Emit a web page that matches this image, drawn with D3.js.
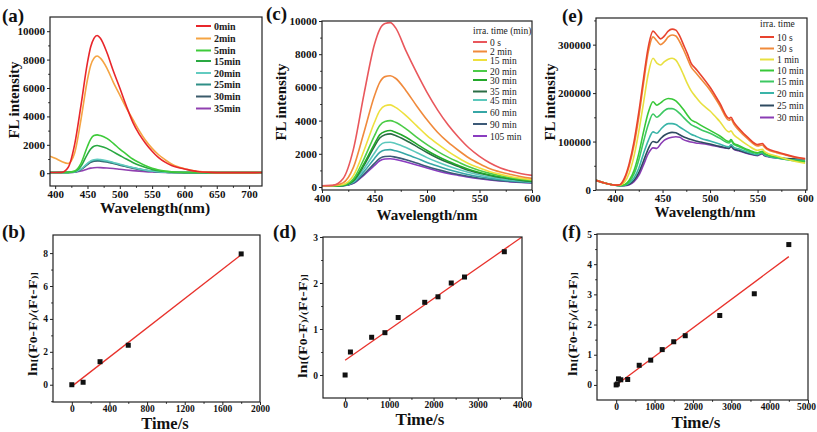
<!DOCTYPE html>
<html><head><meta charset="utf-8">
<script src="https://cdn.jsdelivr.net/npm/d3@7"></script>
<style>
body{margin:0;background:#fff}
svg{display:block;font-family:"Liberation Serif","Times New Roman",serif}
</style></head><body>
<svg id="c" width="817" height="432"></svg>
<script>
// ---------- Panel (a) ----------
const aWave = [392,400,410,420,430,440,450,455,460,465,470,480,490,500,510,520,530,540,550,560,570,580,590,600,620,640,660,680,700,720];
const aNames = ["0min","2min","5min","15min","20min","25min","30min","35min"];
const aColors = ["#e8262b","#f5a443","#3ecb3a","#2aa842","#62cbc0","#2f8f87","#3b5b6b","#9040b0"];
const a0  = [50,50,60,400,2000,4800,7800,8900,9500,9700,9500,8500,7200,6000,4750,3600,2750,2100,1550,1100,780,550,400,300,120,60,40,40,40,50];
const a2  = [1200,1050,820,680,1400,3800,6600,7600,8100,8250,8100,7400,6400,5500,4600,3800,3000,2300,1750,1300,950,650,450,320,130,60,40,40,40,50];
const a5  = [50,50,50,60,150,700,1900,2400,2650,2700,2650,2450,2100,1700,1350,1000,750,520,350,230,150,100,70,60,50,40,40,40,40,50];
const a15 = [50,50,50,60,120,500,1350,1700,1900,1950,1900,1750,1500,1250,1000,760,560,400,270,180,120,80,60,50,40,40,40,40,40,50];
const a20 = [50,50,50,55,90,300,700,870,950,980,960,880,760,630,510,400,300,220,160,110,80,60,50,50,40,40,40,40,40,50];
const a25 = [50,50,50,55,85,280,650,820,900,920,900,830,720,600,490,380,290,210,150,100,75,55,50,45,40,40,40,40,40,50];
const a30 = [50,50,50,55,80,260,610,770,850,870,850,790,680,570,460,360,270,200,140,95,70,55,50,45,40,40,40,40,40,50];
const a35 = [50,50,50,55,70,150,300,360,390,400,395,370,330,280,230,185,145,110,85,65,55,50,45,40,40,40,40,40,40,50];
const aXTicks = [400,450,500,550,600,650,700];
const aYTicks = [0,2000,4000,6000,8000,10000];

// ---------- Panel (c) ----------
const cWave = [400,410,420,430,440,450,455,460,465,470,480,490,500,510,520,530,540,550,560,570,580,590,600];
const cNames = ["0 s","2 min","15 min","20 min","30 min","35 min","45 min","60 min","90 min","105 min"];
const cColors = ["#e9575c","#f08a3c","#eee03e","#4ccc48","#22a82a","#2a6d45","#5cc8bc","#36a6a6","#3c5a78","#8a3cc0"];
const c0   = [80,100,500,2300,5600,8600,9500,9850,9900,9600,8200,6900,5700,4650,3750,3000,2350,1850,1450,1150,950,800,700];
const c2   = [80,90,250,1200,3300,5500,6300,6650,6700,6550,5800,4900,4050,3300,2700,2200,1750,1400,1100,900,750,620,520];
const c15  = [70,80,150,700,2200,3900,4600,4900,4950,4800,4300,3700,3100,2600,2150,1750,1400,1150,920,760,620,520,440];
const c20  = [70,75,120,500,1700,3100,3700,3950,4000,3900,3500,3000,2550,2150,1800,1500,1220,1000,820,680,560,470,400];
const c30  = [70,70,100,400,1400,2600,3150,3350,3400,3300,3000,2600,2200,1850,1550,1300,1060,870,720,600,500,420,360];
const c35  = [70,70,100,380,1300,2450,2950,3150,3200,3100,2800,2450,2080,1750,1470,1230,1000,830,690,570,480,400,340];
const c45  = [70,70,90,320,1100,2050,2500,2680,2700,2620,2380,2080,1770,1500,1260,1050,870,720,600,500,420,360,310];
const c60  = [70,70,85,280,930,1720,2080,2230,2250,2180,1980,1740,1480,1260,1060,890,740,620,520,440,370,320,280];
const c90  = [70,70,80,240,780,1420,1720,1840,1850,1800,1640,1440,1230,1050,890,750,630,530,450,380,330,290,255];
const c105 = [70,70,80,220,720,1300,1580,1690,1700,1660,1510,1330,1140,970,820,700,590,500,420,360,310,270,240];
const cXTicks = [400,450,500,550,600];
const cYTicks = [0,2000,4000,6000,8000,10000];

// ---------- Panel (e) ----------
const eWave = [380,390,400,405,410,415,420,425,430,435,440,444,448,452,456,460,464,468,472,476,480,485,490,500,510,520,522,525,530,540,550,555,557,560,570,580,590,600];
const eNames = ["10 s","30 s","1 min","10 min","15 min","20 min","25 min","30 min"];
const eColors = ["#e8432e","#f08a3a","#e8e040","#38c838","#3cc862","#3ab4a8","#2e4a60","#8a3cb4"];
const e10s = [20000,14000,10000,11000,25000,55000,100000,160000,230000,295000,328000,320000,312000,318000,328000,332000,330000,318000,300000,282000,262000,250000,238000,212000,180000,148000,150000,140000,128000,108000,94000,96000,92000,86000,79000,73000,68000,65000];
const e30s = [20000,14000,10000,10500,22000,50000,92000,150000,220000,285000,316000,308000,300000,306000,316000,320000,318000,306000,290000,272000,254000,242000,230000,206000,175000,144000,146000,136000,124000,105000,91000,93000,89000,84000,77000,72000,67000,64000];
const e1m  = [20000,14000,10000,10000,16000,35000,70000,120000,180000,240000,272000,262000,258000,265000,270000,272000,268000,255000,238000,220000,205000,192000,180000,163000,142000,120000,122000,114000,106000,92000,82000,84000,80000,76000,70000,64000,59000,55000];
const e10m = [20000,14000,10000,9500,11000,20000,40000,75000,120000,160000,182000,175000,180000,186000,189000,188000,184000,176000,166000,155000,145000,140000,134000,123000,112000,100000,104000,96000,92000,83000,77000,80000,76000,73000,68000,64000,61000,58000];
const e15m = [20000,14000,10000,9500,10500,17000,33000,62000,100000,135000,157000,150000,156000,164000,168000,168000,165000,158000,150000,142000,135000,130000,125000,117000,107000,97000,101000,94000,90000,81000,76000,79000,75000,72000,67000,63000,60000,59000];
const e20m = [20000,14000,10000,9000,10000,14000,25000,45000,75000,102000,120000,117000,125000,133000,137000,137000,135000,130000,125000,120000,115000,111000,107000,101000,95000,89000,94000,88000,85000,78000,73000,77000,73000,70000,66000,63000,62000,61000];
const e25m = [20000,14000,10000,9000,9500,12000,20000,36000,60000,85000,100000,98000,106000,113000,117000,119000,118000,114000,110000,107000,104000,101000,99000,95000,90000,86000,91000,85000,82000,76000,72000,76000,72000,70000,67000,65000,64000,64000];
const e30m = [20000,14000,10000,9000,9000,11000,17000,30000,52000,75000,87000,86000,95000,103000,107000,109000,110000,109000,104000,101000,99000,97000,96000,93000,89000,86000,90000,84000,81000,75000,71000,75000,71000,69000,66000,64000,64000,63000];
const eXTicks = [400,450,500,550,600];
const eYTicks = [0,100000,200000,300000];

// ---------- Panels (b), (d), (f) ----------
const bTime = [0,120,300,600,1800];
const bLn   = [0,0.15,1.4,2.4,7.95];
const bFitT = [0,1800];
const bFitY = [-0.1,7.9];
const bXTicks = [0,400,800,1200,1600,2000];
const bYTicks = [0,2,4,6,8];

const dTime = [0,120,600,900,1200,1800,2100,2400,2700,3600];
const dLn   = [0,0.5,0.82,0.92,1.25,1.58,1.7,2.0,2.13,2.68];
const dFitT = [0,4000];
const dFitY = [0.32,3.0];
const dXTicks = [0,1000,2000,3000,4000];
const dYTicks = [0,1,2,3];

const fTime = [0,30,60,120,300,600,900,1200,1500,1800,2700,3600,4500];
const fLn   = [0,0.03,0.2,0.17,0.18,0.65,0.82,1.17,1.43,1.63,2.3,3.02,4.65];
const fFitT = [0,4500];
const fFitY = [0.0,4.25];
const fXTicks = [0,1000,2000,3000,4000,5000];
const fYTicks = [0,1,2,3,4,5];

// ---------- drawing ----------
const svg = d3.select("#c");
let clipId = 0;

function frame(cfg){
  const g = svg.append("g");
  const x = d3.scaleLinear().domain(cfg.xd).range([cfg.l, cfg.r]);
  const y = d3.scaleLinear().domain(cfg.yd).range([cfg.b, cfg.t]);
  const id = "clip" + (clipId++);
  svg.append("clipPath").attr("id", id).append("rect")
    .attr("x", cfg.l).attr("y", cfg.t).attr("width", cfg.r - cfg.l).attr("height", cfg.b - cfg.t);
  const ts = cfg.tickLen || 4;
  const minorX = g.append("g").attr("transform", `translate(0,${cfg.b})`)
    .call(d3.axisBottom(x).tickValues(cfg.xMinor).tickSize(ts * 0.6).tickFormat(""));
  const minorY = g.append("g").attr("transform", `translate(${cfg.l},0)`)
    .call(d3.axisLeft(y).tickValues(cfg.yMinor).tickSize(ts * 0.6).tickFormat(""));
  const ax = g.append("g").attr("transform", `translate(0,${cfg.b})`)
    .call(d3.axisBottom(x).tickValues(cfg.xTicks).tickSize(ts).tickPadding(cfg.xPad == null ? 2 : cfg.xPad).tickFormat(d3.format("d")));
  const ay = g.append("g").attr("transform", `translate(${cfg.l},0)`)
    .call(d3.axisLeft(y).tickValues(cfg.yTicks).tickSize(ts).tickPadding(2).tickFormat(d3.format("d")));
  [minorX, minorY, ax, ay].forEach(a => {
    a.select(".domain").remove();
    a.selectAll("line").attr("stroke", "#222").attr("stroke-width", 1);
    a.selectAll("text").attr("font-family", '"Liberation Serif",serif').attr("font-weight", "bold")
      .attr("font-size", cfg.tickFs || 11).attr("fill", "#111");
  });
  if (cfg.lastShift) ax.selectAll("text").filter((d,i,n) => i === n.length - 1).attr("dx", cfg.lastShift);
  const plot = g.append("g").attr("clip-path", `url(#${id})`);
  g.append("rect").attr("x", cfg.l).attr("y", cfg.t).attr("width", cfg.r - cfg.l).attr("height", cfg.b - cfg.t)
    .attr("fill", "none").attr("stroke", "#222").attr("stroke-width", 1.2);
  svg.append("text").attr("x", cfg.lab[0]).attr("y", cfg.lab[1]).text(cfg.label)
    .attr("font-weight", "bold").attr("font-size", 19).attr("fill", "#111");
  svg.append("text").attr("x", cfg.xt[0]).attr("y", cfg.xt[1]).attr("text-anchor", "middle")
    .attr("font-weight", "bold").attr("font-size", cfg.xtFs).attr("fill", "#111").text(cfg.xTitle);
  const yt = svg.append("text").attr("transform", `translate(${cfg.yt[0]},${cfg.yt[1]}) rotate(-90)`)
    .attr("text-anchor", "middle").attr("font-weight", "bold").attr("font-size", cfg.ytFs).attr("fill", "#111");
  if (typeof cfg.yTitle === "string") yt.text(cfg.yTitle);
  else cfg.yTitle.forEach(p => yt.append("tspan").text(p.t).attr("font-size", p.fs || null));
  if (cfg.ytLen) yt.attr("textLength", cfg.ytLen).attr("lengthAdjust", "spacingAndGlyphs");
  return {x, y, plot, g};
}

function spectra(cfg, wave, series, names, colors, leg){
  const {x, y, plot} = frame(cfg);
  const line = d3.line().x((d,i) => x(wave[i])).y(d => y(d)).curve(d3.curveMonotoneX);
  series.slice().reverse().forEach((s, k) => {
    const i = series.length - 1 - k;
    plot.append("path").attr("d", line(s)).attr("fill", "none")
      .attr("stroke", colors[i]).attr("stroke-width", 1.6);
  });
  const lg = svg.append("g");
  if (leg.title) lg.append("text").attr("x", leg.x).attr("y", leg.ty).text(leg.title)
    .attr("font-size", leg.fs).attr("fill", "#222");
  names.forEach((n, i) => {
    const yy = leg.y[i];
    lg.append("line").attr("x1", leg.x).attr("x2", leg.x + leg.len).attr("y1", yy).attr("y2", yy)
      .attr("stroke", colors[i]).attr("stroke-width", 2);
    lg.append("text").attr("x", leg.x + leg.len + 3).attr("y", yy + 3.5).text(n)
      .attr("font-size", leg.fs).attr("font-weight", leg.bold ? "bold" : "normal").attr("fill", "#222");
  });
}

function kinetics(cfg, t, v, ft, fy){
  const {x, y, plot} = frame(cfg);
  plot.append("line").attr("x1", x(ft[0])).attr("y1", y(fy[0])).attr("x2", x(ft[1])).attr("y2", y(fy[1]))
    .attr("stroke", "#e8322c").attr("stroke-width", 1.3);
  plot.selectAll("rect.pt").data(t).enter().append("rect")
    .attr("x", (d,i) => x(d) - 2.5).attr("y", (d,i) => y(v[i]) - 2.5)
    .attr("width", 5).attr("height", 5).attr("fill", "#111");
}

const lnTitle = [{t:"ln"},{t:"[",fs:8},{t:"(F"},{t:"0",fs:10},{t:"-F"},{t:")",fs:8},{t:"/"},{t:"(",fs:8},{t:"F"},{t:"t",fs:10},{t:"-F"},{t:")",fs:8},{t:"]",fs:8}];

// (a)
spectra({l:50,r:262,t:17,b:186,xd:[392,720],yd:[-900,11000],
  xTicks:aXTicks,yTicks:aYTicks,xMinor:d3.range(425,720,50),yMinor:d3.range(1000,11000,2000),tickLen:3,xPad:1,
  label:"(a)",lab:[2,22],xTitle:"Wavelength(nm)",xt:[155,213],xtFs:15.5,
  yTitle:"FL intensity",yt:[19,100],ytFs:15},
  aWave,[a0,a2,a5,a15,a20,a25,a30,a35],aNames,aColors,
  {x:196,len:15,y:[26,38.5,50.5,61,73,84.5,96.5,108.5],fs:10,bold:true});

// (c)
spectra({l:322,r:532,t:21,b:190,xd:[400,600],yd:[-180,10000],
  xTicks:cXTicks,yTicks:cYTicks,xMinor:d3.range(425,600,50),yMinor:d3.range(1000,10000,2000),tickLen:3,xPad:1,
  label:"(c)",lab:[266,20],xTitle:"Wavelength/nm",xt:[427,220],xtFs:15,
  yTitle:"FL intensity",yt:[286,102],ytFs:15},
  cWave,[c0,c2,c15,c20,c30,c35,c45,c60,c90,c105],cNames,cColors,
  {x:473,len:14,title:"irra. time (min)",ty:34,y:[42,51.5,60,71,80,91.5,100,112,124,136],fs:9.5});

// (e)
spectra({l:596,r:807,t:18,b:190,xd:[380,602],yd:[0,355000],
  xTicks:eXTicks,yTicks:eYTicks,xMinor:d3.range(425,600,50),yMinor:d3.range(50000,355000,100000),tickLen:3,xPad:1,
  label:"(e)",lab:[562,22],xTitle:"Wavelength/nm",xt:[705,217],xtFs:15,
  yTitle:"FL intensity",yt:[555,102],ytFs:15},
  eWave,[e10s,e30s,e1m,e10m,e15m,e20m,e25m,e30m],eNames,eColors,
  {x:760,len:14,title:"irra. time",ty:27,y:[37,48.5,59.5,70.5,81.5,93,105.5,117.5],fs:9.5});

// (b)
kinetics({l:53,r:260,t:235,b:402,xd:[-200,2000],yd:[-1.05,9.1],
  xTicks:bXTicks,yTicks:bYTicks,xMinor:d3.range(200,2000,400),yMinor:d3.range(-1,9,2),tickFs:9.5,tickLen:3,xPad:0,
  label:"(b)",lab:[2,238],xTitle:"Time/s",xt:[165,429],xtFs:16.5,
  yTitle:lnTitle,yt:[37,324],ytFs:12,ytLen:104},bTime,bLn,bFitT,bFitY);

// (d)
kinetics({l:323,r:522,t:237,b:398,xd:[-500,4000],yd:[-0.5,3],
  xTicks:dXTicks,yTicks:dYTicks,xMinor:d3.range(500,4000,1000),yMinor:d3.range(0.5,3,1),tickFs:9.5,tickLen:3,xPad:0,
  label:"(d)",lab:[273,238],xTitle:"Time/s",xt:[420,425],xtFs:17,
  yTitle:lnTitle,yt:[307,326],ytFs:12,ytLen:104},dTime,dLn,dFitT,dFitY);

// (f)
kinetics({l:597,r:808,t:234,b:400,xd:[-500,5000],yd:[-0.5,5],
  xTicks:fXTicks,yTicks:fYTicks,xMinor:d3.range(500,5000,1000),yMinor:d3.range(0.5,5,1),tickFs:9.5,tickLen:3,xPad:0,lastShift:-2,
  label:"(f)",lab:[562,238],xTitle:"Time/s",xt:[696,428],xtFs:17,
  yTitle:lnTitle,yt:[577,324],ytFs:12,ytLen:104},fTime,fLn,fFitT,fFitY);
</script></body></html>
